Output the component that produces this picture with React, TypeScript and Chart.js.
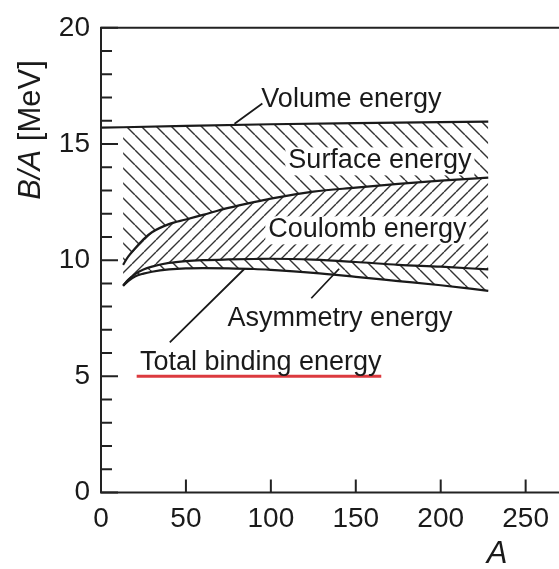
import React, { useEffect, useRef } from 'react';
import { Chart, registerables } from 'chart.js';
Chart.register(...registerables);

// ---- data ----
const volumeA = [0, 13, 50, 100, 150, 200, 228];
const volumeE = [15.7, 15.72, 15.78, 15.85, 15.9, 15.94, 15.96];
const curveA = [13, 16, 20, 25, 30, 40, 50, 60, 75, 90, 100, 125, 150, 175, 200, 228];
const surfaceE = [9.8, 10.15, 10.5, 10.9, 11.2, 11.55, 11.75, 11.95, 12.25, 12.5, 12.65, 12.95, 13.12, 13.28, 13.42, 13.55];
const coulombE = [8.9, 9.15, 9.4, 9.6, 9.72, 9.88, 9.96, 10.0, 10.03, 10.05, 10.06, 10.02, 9.92, 9.8, 9.72, 9.6];
const totalE = [8.9, 9.1, 9.3, 9.42, 9.5, 9.6, 9.65, 9.66, 9.65, 9.62, 9.58, 9.45, 9.28, 9.1, 8.92, 8.68];
const redLineA = [21, 165];
const redLineE = [5, 5];
const xTicks = [0, 50, 100, 150, 200, 250];
const yTicks = [0, 5, 10, 15, 20];
const yMinorTicks = [1, 2, 3, 4, 6, 7, 8, 9, 11, 12, 13, 14, 16, 17, 18, 19];

const labelTexts = ['Volume energy', 'Surface energy', 'Coulomb energy', 'Asymmetry energy', 'Total binding energy'];
const labelA = [94.4, 110.3, 98.5, 74.5, 22.9];
const labelE = [16.61, 13.95, 10.98, 7.17, 5.27];
const labelBg = [false, true, true, false, false];
const pointerFromA = [95.0, 123.8, 40.5];
const pointerFromE = [16.74, 8.36, 6.46];
const pointerToA = [78.6, 140.2, 84.5];
const pointerToE = [15.87, 9.63, 9.63];

const FONT = "'Liberation Sans', Arial, Helvetica, sans-serif";
const INK = '#1a1a1a';

function pts(xs: number[], ys: number[]) {
  return xs.map((x, i) => ({ x, y: ys[i] }));
}

export default function App() {
  const ref = useRef<HTMLCanvasElement>(null);
  useEffect(() => {
    const canvas = ref.current!;
    const mainCtx = canvas.getContext('2d')!;
    const hatch = (dir: 'back' | 'fwd', s: number, color: string, lw: number) => {
      const c = document.createElement('canvas');
      c.width = s;
      c.height = s;
      const g = c.getContext('2d')!;
      g.strokeStyle = color;
      g.lineWidth = lw;
      g.beginPath();
      for (let k = -1; k <= 1; k++) {
        if (dir === 'back') {
          g.moveTo(k * s, 0);
          g.lineTo(k * s + s, s);
        } else {
          g.moveTo(k * s, s);
          g.lineTo(k * s + s, 0);
        }
      }
      g.stroke();
      return mainCtx.createPattern(c, 'repeat')!;
    };

    const decor = {
      id: 'decor',
      afterDatasetsDraw(chart: any) {
        const ctx = chart.ctx as CanvasRenderingContext2D;
        const xs = chart.scales.x;
        const ys = chart.scales.y;
        const { left, top, bottom } = chart.chartArea;
        const edge = chart.width;
        ctx.save();
        // frame lines
        ctx.strokeStyle = '#222';
        ctx.lineWidth = 2;
        ctx.beginPath();
        ctx.moveTo(left, top);
        ctx.lineTo(edge, top);
        ctx.moveTo(left, top - 1);
        ctx.lineTo(left, bottom);
        ctx.lineTo(edge, bottom);
        ctx.stroke();
        // inward ticks
        ctx.lineWidth = 2;
        ctx.beginPath();
        yTicks.forEach((v) => {
          const py = ys.getPixelForValue(v);
          ctx.moveTo(left, py);
          ctx.lineTo(left + 17, py);
        });
        yMinorTicks.forEach((v) => {
          const py = ys.getPixelForValue(v);
          ctx.moveTo(left, py);
          ctx.lineTo(left + 11, py);
        });
        xTicks.forEach((v) => {
          if (v === 0) return;
          const px = xs.getPixelForValue(v);
          ctx.moveTo(px, bottom);
          ctx.lineTo(px, bottom - 13);
        });
        ctx.stroke();
        // pointer lines
        ctx.strokeStyle = INK;
        ctx.lineWidth = 1.8;
        ctx.beginPath();
        pointerFromA.forEach((a, i) => {
          ctx.moveTo(xs.getPixelForValue(a), ys.getPixelForValue(pointerFromE[i]));
          ctx.lineTo(xs.getPixelForValue(pointerToA[i]), ys.getPixelForValue(pointerToE[i]));
        });
        ctx.stroke();
        // labels
        ctx.font = `27px ${FONT}`;
        ctx.textAlign = 'left';
        ctx.textBaseline = 'alphabetic';
        labelTexts.forEach((t, i) => {
          const px = xs.getPixelForValue(labelA[i]);
          const py = ys.getPixelForValue(labelE[i]);
          if (labelBg[i]) {
            const w = ctx.measureText(t).width;
            ctx.fillStyle = '#fff';
            ctx.fillRect(px - 3, py - 21, w + 6, 28);
          }
          ctx.fillStyle = INK;
          ctx.fillText(t, px, py);
        });
        // axis titles
        ctx.fillStyle = INK;
        ctx.save();
        ctx.translate(40, 130);
        ctx.rotate(-Math.PI / 2);
        ctx.font = `italic 31px ${FONT}`;
        const w1 = ctx.measureText('B/A').width;
        ctx.font = `31px ${FONT}`;
        const w2 = ctx.measureText(' [MeV]').width;
        const start = -(w1 + w2) / 2;
        ctx.font = `italic 31px ${FONT}`;
        ctx.fillText('B/A', start, 0);
        ctx.font = `31px ${FONT}`;
        ctx.fillText(' [MeV]', start + w1, 0);
        ctx.restore();
        ctx.font = `italic 31px ${FONT}`;
        ctx.textAlign = 'center';
        ctx.fillText('A', 497, 563);
        ctx.restore();
      },
    };

    const chart = new Chart(canvas, {
      type: 'line',
      data: {
        datasets: [
          {
            data: pts(volumeA, volumeE),
            borderColor: INK,
            borderWidth: 2.2,
            fill: false,
          },
          {
            data: pts(curveA, surfaceE),
            borderColor: INK,
            borderWidth: 2.2,
            cubicInterpolationMode: 'monotone',
            fill: { target: 0 },
            backgroundColor: hatch('back', 15, '#333', 1.4),
          },
          {
            data: pts(curveA, coulombE),
            borderColor: INK,
            borderWidth: 2.2,
            cubicInterpolationMode: 'monotone',
            fill: { target: 1 },
            backgroundColor: hatch('fwd', 12, '#333', 1.4),
          },
          {
            data: pts(curveA, totalE),
            borderColor: INK,
            borderWidth: 2.2,
            cubicInterpolationMode: 'monotone',
            fill: { target: 2 },
            backgroundColor: hatch('back', 15, '#333', 1.4),
          },
          {
            data: pts(redLineA, redLineE),
            borderColor: '#dc3a3f',
            borderWidth: 3,
            fill: false,
          },
        ] as any,
      },
      options: {
        responsive: false,
        animation: false,
        devicePixelRatio: 1,
        layout: { padding: { top: 20, left: 0, right: 0, bottom: 0 } },
        elements: { point: { radius: 0 } },
        plugins: {
          legend: { display: false },
          tooltip: { enabled: false },
          filler: { propagate: false },
        },
        scales: {
          x: {
            type: 'linear',
            min: 0,
            max: 268.6,
            afterBuildTicks: (s: any) => {
              s.ticks = xTicks.map((v) => ({ value: v }));
            },
            afterFit: (s: any) => {
              s.height = 76.5;
            },
            grid: { display: false, drawTicks: false },
            border: { display: false },
            ticks: {
              font: { family: FONT, size: 28 },
              color: INK,
              padding: 10,
              maxRotation: 0,
              autoSkip: false,
            },
          },
          y: {
            type: 'linear',
            min: 0,
            max: 20,
            afterBuildTicks: (s: any) => {
              s.ticks = yTicks.map((v) => ({ value: v }));
            },
            afterFit: (s: any) => {
              s.width = 101;
            },
            grid: { display: false, drawTicks: false },
            border: { display: false },
            ticks: {
              font: { family: FONT, size: 28 },
              color: INK,
              padding: 11,
              autoSkip: false,
            },
          },
        },
      } as any,
      plugins: [decor],
    });
    return () => chart.destroy();
  }, []);

  return (
    <div style={{ position: 'absolute', left: 0, top: 0, width: 559, height: 569, background: '#fff' }}>
      <canvas ref={ref} width={559} height={569} style={{ display: 'block' }} />
    </div>
  );
}
